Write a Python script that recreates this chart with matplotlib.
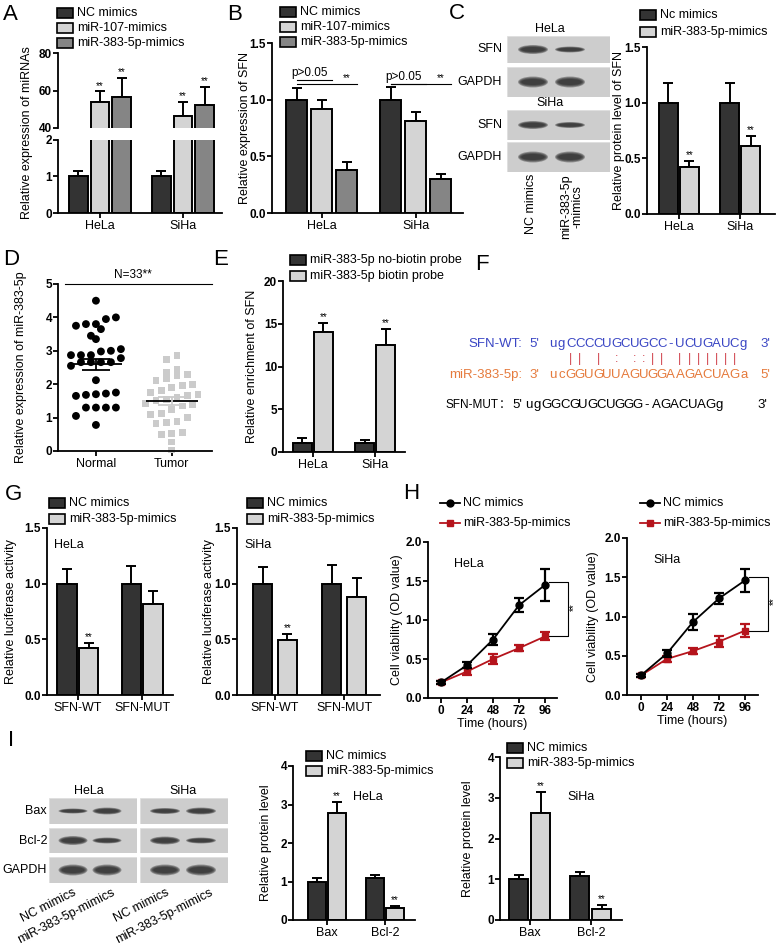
import numpy as np
import matplotlib
matplotlib.use("Agg")
import matplotlib.pyplot as plt
from matplotlib.patches import Rectangle, Ellipse
from matplotlib.lines import Line2D

plt.rcParams['font.family'] = ['Liberation Sans', 'DejaVu Sans']

W, H = 778, 950
DARK = '#333333'
LIGHT = '#d4d4d4'
MID = '#858585'
RED = '#b5141c'

# ====== data ======
cells = ['HeLa', 'SiHa']

# A: miRNA expression (broken axis)
a_nc, a_nc_err = [1.0, 1.0], [0.14, 0.15]
a_107, a_107_err = [54.0, 46.4], [5.5, 7.5]
a_383, a_383_err = [56.5, 52.3], [10.2, 9.6]

# B: SFN mRNA
b_nc, b_nc_err = [1.0, 1.0], [0.10, 0.11]
b_107, b_107_err = [0.92, 0.81], [0.08, 0.08]
b_383, b_383_err = [0.38, 0.30], [0.07, 0.04]

# C: SFN protein
c_nc, c_nc_err = [1.0, 1.0], [0.18, 0.18]
c_383, c_383_err = [0.42, 0.61], [0.06, 0.09]

# D: scatter normal vs tumor
d_normal = [4.5, 3.8, 3.75, 4.0, 3.65, 3.8, 3.95, 3.45, 3.35, 2.98, 3.0, 3.05,
            2.87, 2.87, 2.87, 2.66, 2.66, 2.66, 2.66, 2.78, 2.55, 2.12,
            1.75, 1.72, 1.7, 1.68, 1.65, 1.3, 1.3, 1.3, 1.3, 1.05, 0.78]
d_tumor = [2.87, 2.74, 2.45, 2.36, 2.27, 2.3, 2.18, 2.1, 2.0, 1.95, 1.9,
           1.8, 1.75, 1.7, 1.65, 1.6, 1.42, 1.38, 1.35, 1.25, 1.13, 1.1,
           0.85, 0.82, 0.88, 0.55, 0.52, 0.5, 0.27, 0.03, 1.55, 1.5, 1.0]

# E: RNA pull-down
e_nobio, e_nobio_err = [1.1, 1.1], [0.5, 0.35]
e_bio, e_bio_err = [14.0, 12.5], [1.1, 1.9]

# F: sequences
seq_wt = "ugCCCCUGCUGCC-UCUGAUCg"
seq_mir = "ucGGUGUUAGUGGAAGACUAGa"
seq_mut = "ugGGCGUGCUGGG-AGACUAGg"
pairs = {2: '|', 3: '|', 5: '|', 7: ':', 9: ':', 10: ':', 11: '|', 12: '|',
         14: '|', 15: '|', 16: '|', 17: '|', 18: '|', 19: '|', 20: '|'}

# G: luciferase
constructs = ['SFN-WT', 'SFN-MUT']
g_hela_nc, g_hela_nc_err = [1.0, 1.0], [0.13, 0.16]
g_hela_mir, g_hela_mir_err = [0.42, 0.82], [0.05, 0.11]
g_siha_nc, g_siha_nc_err = [1.0, 1.0], [0.15, 0.17]
g_siha_mir, g_siha_mir_err = [0.49, 0.88], [0.06, 0.17]

# H: cell viability
hours = [0, 24, 48, 72, 96]
h_hela_nc = [0.20, 0.42, 0.75, 1.19, 1.45]
h_hela_nc_err = [0.02, 0.04, 0.07, 0.09, 0.21]
h_hela_mir = [0.20, 0.34, 0.50, 0.64, 0.79]
h_hela_mir_err = [0.02, 0.04, 0.06, 0.04, 0.05]
h_siha_nc = [0.25, 0.53, 0.93, 1.23, 1.46]
h_siha_nc_err = [0.02, 0.04, 0.10, 0.07, 0.15]
h_siha_mir = [0.25, 0.46, 0.56, 0.68, 0.82]
h_siha_mir_err = [0.02, 0.04, 0.04, 0.07, 0.08]

# I: Bax / Bcl-2
proteins = ['Bax', 'Bcl-2']
i_hela_nc, i_hela_nc_err = [1.0, 1.09], [0.10, 0.09]
i_hela_mir, i_hela_mir_err = [2.79, 0.32], [0.27, 0.04]
i_siha_nc, i_siha_nc_err = [1.0, 1.08], [0.10, 0.09]
i_siha_mir, i_siha_mir_err = [2.63, 0.27], [0.52, 0.10]

# blot band thickness (px) per row, per lane
c_bands = [[9, 6], [11, 11], [8, 6], [11, 11]]
i_bands_hela = [[5, 7], [9, 6], [11, 11]]
i_bands_siha = [[6, 7], [8, 6], [11, 11]]

fig = plt.figure(figsize=(W / 100, H / 100), dpi=100)
fig.patch.set_facecolor('white')


def add_ax(l, t, r, b):
    return fig.add_axes([l / W, 1 - b / H, (r - l) / W, (b - t) / H])


def ftext(x, y, s, **kw):
    return fig.text(x / W, 1 - y / H, s, **kw)


def style(ax, yticks, fmt):
    for s in ['top', 'right']:
        ax.spines[s].set_visible(False)
    for s in ['left', 'bottom']:
        ax.spines[s].set_linewidth(1.3)
    ax.tick_params(direction='out', length=3.5, width=1.3, labelsize=9, pad=1.5)
    ax.tick_params(axis='y', pad=0.8)
    ax.set_yticks(yticks)
    ax.set_yticklabels([fmt.format(v) for v in yticks], fontweight='bold',
                       fontsize=8.5)


def ylab(ax, text, xc):
    pos = ax.get_position()
    l, w = pos.x0 * W, pos.width * W
    ax.set_ylabel(text, fontsize=9)
    ax.yaxis.set_label_coords((xc + 6 - l) / w, 0.5)


def bars(ax, series, errs, colors, width, pitch, stars=None):
    # stars: one list per series, one string per group
    n = len(series)
    x = np.arange(len(series[0]))
    for j, (v, e, c) in enumerate(zip(series, errs, colors)):
        pos = x + (j - (n - 1) / 2) * pitch
        ax.errorbar(pos, v, yerr=[np.zeros(len(e)), e], fmt='none', ecolor='black',
                    elinewidth=1.4, capsize=3.5, capthick=1.4, zorder=1)
        ax.bar(pos, v, width, color=c, edgecolor='black', linewidth=1.4, zorder=2)
        if stars is not None:
            for p, vv, ee, st in zip(pos, v, e, stars[j]):
                if st:
                    ax.annotate(st, (p, vv + ee), xytext=(0, 0.5),
                                textcoords='offset points', ha='center',
                                va='bottom', fontsize=7)
    ax.set_xticks(x)
    return x


def box_legend(x, y, labels, colors, dy):
    for k, (lab, c) in enumerate(zip(labels, colors)):
        yy = y + k * dy
        fig.add_artist(Rectangle((x / W, 1 - (yy + 5) / H), 16 / W, 10 / H,
                                 transform=fig.transFigure, facecolor=c,
                                 edgecolor='black', lw=1.2))
        ftext(x + 20, yy, lab, fontsize=9, va='center')


def line_legend(x, y, labels, colors, markers, dy):
    for k, (lab, c, m) in enumerate(zip(labels, colors, markers)):
        yy = 1 - (y + k * dy) / H
        fig.add_artist(Line2D([x / W, (x + 10) / W, (x + 20) / W], [yy] * 3,
                              transform=fig.transFigure, color=c, lw=1.3,
                              marker=m, markersize=5, markevery=[1]))
        ftext(x + 23, y + k * dy, lab, fontsize=9, va='center')


def blot(l, t, r, b, first, pitch, bw, thick):
    ax = add_ax(l, t, r, b)
    ax.set_xlim(l, r)
    ax.set_ylim(b, t)
    ax.axis('off')
    ax.add_patch(Rectangle((l, t), r - l, b - t, facecolor='#cdcdcd',
                           edgecolor='#dddddd', lw=0.5))
    for k, th in enumerate(thick):
        cx = first + k * pitch
        for sc in [1.0, 0.85, 0.7, 0.55]:
            ax.add_patch(Ellipse((cx, (t + b) / 2), bw * sc ** 0.4, th * sc,
                                 facecolor='#1c1c1c', edgecolor='none', alpha=0.33))
    return ax


# ---------------- A ----------------
ax_top = add_ax(58, 53, 222, 128)
ax_bot = add_ax(58, 140, 222, 213)
for ax, lo, hi, st in [(ax_top, 40, 80, [['', ''], ['**', '**'], ['**', '**']]),
                       (ax_bot, 0, 2, None)]:
    bars(ax, [a_nc, a_107, a_383], [a_nc_err, a_107_err, a_383_err],
         [DARK, LIGHT, MID], 0.22, 0.26, stars=st)
    ax.set_ylim(lo, hi)
    ax.set_xlim(-0.506, 1.47)
style(ax_top, [40, 60, 80], '{:d}')
style(ax_bot, [0, 1, 2], '{:d}')
ax_top.spines['bottom'].set_visible(False)
ax_top.tick_params(axis='x', length=0, labelbottom=False)
ax_bot.set_xticklabels(cells, fontsize=9)
ftext(27, 133, 'Relative expression of miRNAs', rotation=90, ha='center',
      va='center', fontsize=9)
box_legend(57, 13, ['NC mimics', 'miR-107-mimics', 'miR-383-5p-mimics'],
           [DARK, LIGHT, MID], 15)

# ---------------- B ----------------
ax = add_ax(272, 43, 463, 213)
wB, pB = 0.223, 0.266
bars(ax, [b_nc, b_107, b_383], [b_nc_err, b_107_err, b_383_err],
     [DARK, LIGHT, MID], wB, pB)
ax.set_ylim(0, 1.5)
ax.set_xlim(-0.53, 1.5)
style(ax, [0.0, 0.5, 1.0, 1.5], '{:.1f}')
ax.set_xticklabels(cells, fontsize=9)
ylab(ax, 'Relative expression of SFN', 245)
for g, yp, ys in [(0, 1.17, 1.14), (1, 1.14, 1.14)]:
    ax.plot([g - pB, g + wB / 2], [yp, yp], color='black', lw=0.8, clip_on=False)
    ax.plot([g - pB, g + pB + wB / 2], [ys, ys], color='black', lw=0.8, clip_on=False)
    ax.text(g - pB / 2, yp + 0.01, 'p>0.05', ha='center', va='bottom', fontsize=8.5)
    ax.text(g + pB, ys + 0.01, '**', ha='center', va='bottom', fontsize=7)
box_legend(280, 12, ['NC mimics', 'miR-107-mimics', 'miR-383-5p-mimics'],
           [DARK, LIGHT, MID], 15)

# ---------------- C ----------------
rows_c = [(36, 63), (67, 97), (110, 140), (142, 172)]
names_c = ['SFN', 'GAPDH', 'SFN', 'GAPDH']
for (t, b), nm, th in zip(rows_c, names_c, c_bands):
    blot(507, t, 610, b, 533, 37, 30, th)
    ftext(502, (t + b) / 2, nm, ha='right', va='center', fontsize=9)
ftext(550, 29, 'HeLa', ha='center', va='center', fontsize=9)
ftext(550, 103, 'SiHa', ha='center', va='center', fontsize=9)
ftext(531, 174, 'NC mimics', rotation=90, ha='center', va='top', fontsize=9)
ftext(572, 174, 'miR-383-5p\n-mimics', rotation=90, ha='center', va='top',
      fontsize=9, multialignment='center', linespacing=0.95)

ax = add_ax(647, 47, 775, 214)
bars(ax, [c_nc, c_383], [c_nc_err, c_383_err], [DARK, LIGHT], 0.31, 0.345,
     stars=[['', ''], ['**', '**']])
ax.set_ylim(0, 1.5)
ax.set_xlim(-0.52, 1.57)
style(ax, [0.0, 0.5, 1.0, 1.5], '{:.1f}')
ax.set_xticklabels(cells, fontsize=9)
ylab(ax, 'Relative protein level of SFN', 619)
box_legend(640, 15, ['Nc mimics', 'miR-383-5p-mimics'], [DARK, LIGHT], 17)

# ---------------- D ----------------
ax = add_ax(58, 284, 212, 451)
ax.set_ylim(0, 5)
ax.set_xlim(-0.5, 1.53)
px_x, px_y = 76.0, 33.5


def rows_scatter(vals, center, d):
    # GraphPad-like column scatter: bin by height, spread each bin sideways
    vals = np.asarray(vals)
    bins = np.round(vals * px_y / d).astype(int)
    xs = np.zeros(len(vals))
    for bn in np.unique(bins):
        idx = np.where(bins == bn)[0]
        idx = idx[np.argsort(vals[idx])]
        n = len(idx)
        for k, i in enumerate(idx):
            xs[i] = center + (k - (n - 1) / 2) * d / px_x
    return xs


for k, (vals, mk, col, sz, d) in enumerate([(d_normal, 'o', 'black', 32, 10.0),
                                            (d_tumor, 's', '#cbcbcb', 24, 10.5)]):
    xs = rows_scatter(vals, k, d)
    ax.scatter(xs, vals, marker=mk, s=sz, color=col, edgecolors='none',
               clip_on=False, zorder=2)
    m = np.mean(vals)
    sem = np.std(vals, ddof=1) / np.sqrt(len(vals))
    ax.hlines(m, k - 0.34, k + 0.34, color='black', lw=1.3, zorder=3)
    ecol = 'black' if k == 0 else '#cbcbcb'
    ax.hlines([m - sem, m + sem], k - 0.18, k + 0.18, color=ecol, lw=1.3, zorder=3)
    ax.vlines(k, m - sem, m + sem, color=ecol, lw=1.3, zorder=3)
style(ax, [0, 1, 2, 3, 4, 5], '{:d}')
ax.set_xticks([0, 1])
ax.set_xticklabels(['Normal', 'Tumor'], fontsize=9)
ax.plot([-0.41, 1.53], [5, 5], color='black', lw=0.8, clip_on=False)
ax.text(0.49, 5.08, 'N=33**', ha='center', va='bottom', fontsize=8.5)
ylab(ax, 'Relative expression of miR-383-5p', 21)

# ---------------- E ----------------
ax = add_ax(283, 281, 405, 452)
bars(ax, [e_nobio, e_bio], [e_nobio_err, e_bio_err], [DARK, LIGHT], 0.3, 0.34,
     stars=[['', ''], ['**', '**']])
ax.set_ylim(0, 20)
ax.set_xlim(-0.48, 1.48)
style(ax, [0, 5, 10, 15, 20], '{:d}')
ax.set_xticklabels(cells, fontsize=9)
ylab(ax, 'Relative enrichment of SFN', 252)
box_legend(290, 260, ['miR-383-5p no-biotin probe', 'miR-383-5p biotin probe'],
           [DARK, LIGHT], 16)

# ---------------- F ----------------
BLUE = '#3a46c4'
ORANGE = '#e57a3c'
PINK = '#d0404a'
x0, pitch_c = 548, 9.1
ftext(522, 344, 'SFN-WT:', color=BLUE, fontsize=9.5, va='center', ha='right')
ftext(529, 344, "5'", color=BLUE, fontsize=9.5, va='center')
ftext(760, 344, "3'", color=BLUE, fontsize=9.5, va='center')
ftext(522, 375, 'miR-383-5p:', color=ORANGE, fontsize=9.5, va='center', ha='right')
ftext(529, 375, "3'", color=ORANGE, fontsize=9.5, va='center')
ftext(760, 375, "5'", color=ORANGE, fontsize=9.5, va='center')
for i, ch in enumerate(seq_wt):
    ftext(x0 + pitch_c * (i + 0.5), 344, ch, color=BLUE, fontsize=9.5,
          ha='center', va='center')
for i, ch in enumerate(seq_mir):
    ftext(x0 + pitch_c * (i + 0.5), 375, ch, color=ORANGE, fontsize=9.5,
          ha='center', va='center')
for i, ch in pairs.items():
    ftext(x0 + pitch_c * (i + 0.5), 359, ch, color=PINK, fontsize=9,
          ha='center', va='center')
ftext(446, 405, 'SFN-MUT', color='black', fontsize=8.5, va='center')
ftext(499, 405, '\uff1a', color='black', fontsize=8.5, va='center',
      family=['Noto Sans CJK SC', 'Liberation Sans'])
ftext(512, 405, "5'", color='black', fontsize=9.5, va='center')
for i, ch in enumerate(seq_mut):
    ftext(524 + 9.1 * (i + 0.5), 405, ch, color='black', fontsize=9.5,
          ha='center', va='center')
ftext(757, 405, "3'", color='black', fontsize=9.5, va='center')

# ---------------- G ----------------
for (l, r, xl, xr, w, p, nc, nce, mi, mie, cell, lx, yx) in [
        (47, 173, -0.48, 1.48, 0.3, 0.34, g_hela_nc, g_hela_nc_err, g_hela_mir,
         g_hela_mir_err, 'HeLa', 49, 11),
        (237, 380, -0.55, 1.52, 0.275, 0.36, g_siha_nc, g_siha_nc_err, g_siha_mir,
         g_siha_mir_err, 'SiHa', 247, 209)]:
    ax = add_ax(l, 528, r, 695)
    bars(ax, [nc, mi], [nce, mie], [DARK, LIGHT], w, p,
         stars=[['', ''], ['**', '']])
    ax.set_ylim(0, 1.5)
    ax.set_xlim(xl, xr)
    style(ax, [0.0, 0.5, 1.0, 1.5], '{:.1f}')
    ax.set_xticklabels(constructs, fontsize=9)
    ylab(ax, 'Relative luciferase activity', yx)
    ftext(l + 7, 545, cell, fontsize=9, va='center')
    box_legend(lx, 503, ['NC mimics', 'miR-383-5p-mimics'], [DARK, LIGHT], 16)

# ---------------- H ----------------
for (l, t, r, b, xr, nc, nce, mi, mie, cell, lx, yx) in [
        (428, 542, 557, 698, (-12, 107), h_hela_nc, h_hela_nc_err, h_hela_mir,
         h_hela_mir_err, 'HeLa', 440, 397),
        (627, 538, 758, 695, (-12.9, 108), h_siha_nc, h_siha_nc_err, h_siha_mir,
         h_siha_mir_err, 'SiHa', 640, 593)]:
    ax = add_ax(l, t, r, b)
    ax.errorbar(hours, nc, yerr=nce, color='black', marker='o', markersize=5,
                lw=1.3, elinewidth=1.6, capsize=3.5, capthick=1.6, zorder=3,
                clip_on=False)
    ax.errorbar(hours, mi, yerr=mie, color=RED, marker='s', markersize=5,
                lw=1.3, elinewidth=1.6, capsize=3.5, capthick=1.6, zorder=2,
                clip_on=False)
    ax.set_xlim(*xr)
    ax.set_ylim(0, 2)
    style(ax, [0.0, 0.5, 1.0, 1.5, 2.0], '{:.1f}')
    ax.set_xticks(hours)
    ax.set_xticklabels([str(h) for h in hours], fontweight='bold', fontsize=8.5)
    ax.set_xlabel('Time (hours)', fontsize=9, labelpad=1)
    ylab(ax, 'Cell viability (OD value)', yx)
    ax.text(0.2, 0.86, cell, transform=ax.transAxes, fontsize=9, va='center')
    x1, x2 = hours[-1] + 4, hours[-1] + 21
    ax.plot([x1, x2, x2, x1], [nc[-1] + 0.04, nc[-1] + 0.04, mi[-1], mi[-1]],
            color='black', lw=0.8, clip_on=False)
    ax.text(x2 + 1.2, (nc[-1] + mi[-1]) / 2 + 0.05, '**', rotation=90, ha='left',
            va='center', fontsize=7)
    line_legend(lx, 503, ['NC mimics', 'miR-383-5p-mimics'], ['black', RED],
                ['o', 's'], 20)

# ---------------- I ----------------
rows_i = [(798, 824), (828, 853), (857, 883)]
names_i = ['Bax', 'Bcl-2', 'GAPDH']
for (t, b), nm, th1, th2 in zip(rows_i, names_i, i_bands_hela, i_bands_siha):
    blot(49, t, 137, b, 73, 34, 29, th1)
    blot(140, t, 228, b, 165, 36, 30, th2)
    ftext(47, (t + b) / 2, nm, ha='right', va='center', fontsize=9)
ftext(89, 791, 'HeLa', ha='center', va='center', fontsize=9)
ftext(183, 791, 'SiHa', ha='center', va='center', fontsize=9)
for xe, lab in [(73, 'NC mimics'), (111, 'miR-383-5p-mimics'),
                (166, 'NC mimics'), (209, 'miR-383-5p-mimics')]:
    ftext(xe, 887, lab, rotation=27, rotation_mode='anchor', ha='right',
          va='top', fontsize=9)

for (l, t, r, xl, xrr, w, p, nc, nce, mi, mie, cell, tx, lx, ly, yx) in [
        (293, 766, 415, -0.59, 1.52, 0.31, 0.345, i_hela_nc, i_hela_nc_err,
         i_hela_mir, i_hela_mir_err, 'HeLa', 353, 306, 756, 266),
        (500, 757, 622, -0.49, 1.51, 0.31, 0.36, i_siha_nc, i_siha_nc_err,
         i_siha_mir, i_siha_mir_err, 'SiHa', 567, 507, 748, 468)]:
    ax = add_ax(l, t, r, 920)
    bars(ax, [nc, mi], [nce, mie], [DARK, LIGHT], w, p,
         stars=[['', ''], ['**', '**']])
    ax.set_ylim(0, 4)
    ax.set_xlim(xl, xrr)
    style(ax, [0, 1, 2, 3, 4], '{:d}')
    ax.set_xticklabels(proteins, fontsize=9)
    ylab(ax, 'Relative protein level', yx)
    ftext(tx, 797, cell, fontsize=9, va='center')
    box_legend(lx, ly, ['NC mimics', 'miR-383-5p-mimics'], [DARK, LIGHT], 15)

# ---------------- panel letters ----------------
for lab, x, y in [('A', 3, 4), ('B', 227, 4), ('C', 449, 3), ('D', 3, 249),
                  ('E', 213, 249), ('F', 475, 254), ('G', 5, 484), ('H', 403, 483),
                  ('I', 8, 730)]:
    ftext(x, y, lab, fontsize=16, va='top', ha='left')

fig.savefig('out.png', dpi=100)
